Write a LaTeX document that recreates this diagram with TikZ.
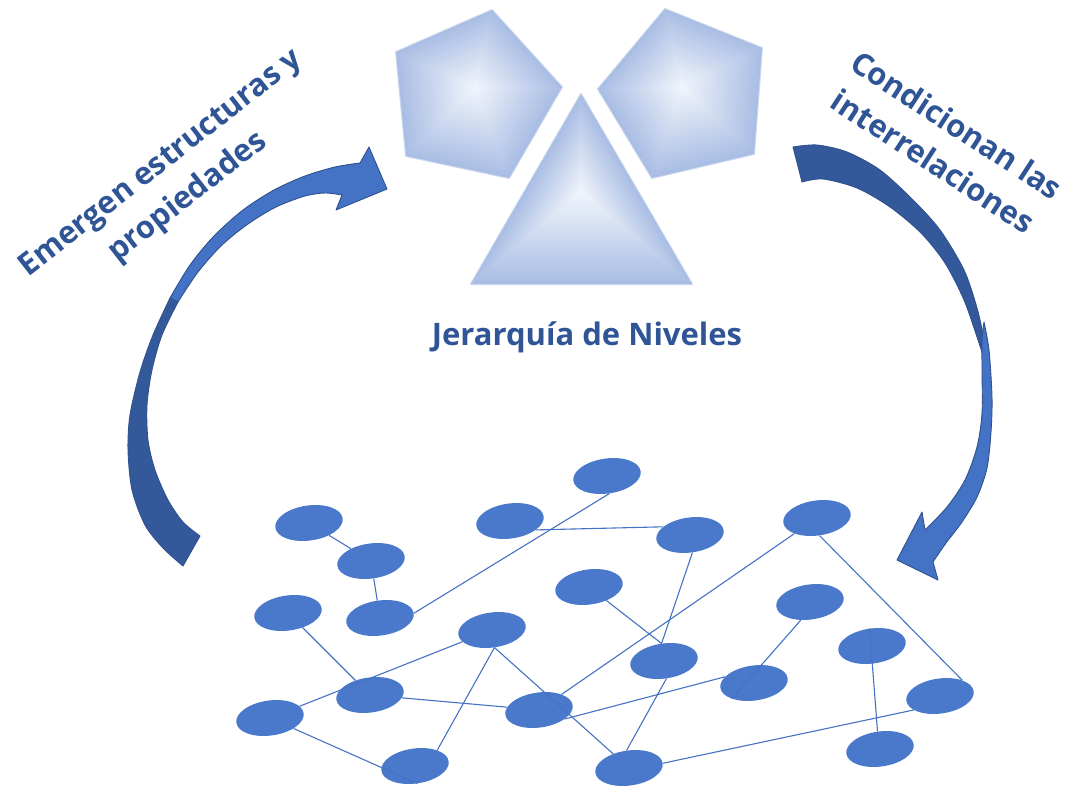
\documentclass[tikz,border=0pt]{standalone}
\usepackage{fontspec}
\setmainfont{Open Sans}
\usetikzlibrary{shapes.geometric,calc}
\definecolor{txtblue}{RGB}{47,85,151}
\definecolor{nodeblue}{RGB}{74,121,203}
\definecolor{lineblue}{RGB}{68,114,196}
\definecolor{arrowbright}{RGB}{68,114,196}
\definecolor{arrowdark}{RGB}{52,89,154}
\definecolor{arrowedge}{RGB}{47,82,143}
\definecolor{shedge}{RGB}{170,190,228}
\definecolor{shcenter}{RGB}{243,246,252}
\begin{document}
\begin{tikzpicture}[x=1pt,y=-1pt,
  net/.style={ellipse, fill=nodeblue, minimum width=68pt, minimum height=35pt, inner sep=0pt, rotate=8},
  link/.style={draw=lineblue, line width=1.1pt},
  lbl/.style={text=txtblue, font=\bfseries\fontsize{31}{43}\selectfont, align=center, inner sep=0pt},
  arrowpart/.style={draw=arrowedge, line width=0.9pt, line join=round},
  softedge/.style={draw=shedge!55!white, line width=2pt, line join=round}]
\useasboundingbox (0,0) rectangle (1089,792);

% ---------- top shapes (shape gradient) ----------
\coordinate (Lc) at (475,88);
\coordinate (L1) at (492,10);
\coordinate (L2) at (562,87);
\coordinate (L3) at (509,178);
\coordinate (L4) at (406,156);
\coordinate (L5) at (396,52);
\coordinate (Rc) at (682,87);
\coordinate (R1) at (665,9);
\coordinate (R2) at (762,48);
\coordinate (R3) at (754,154);
\coordinate (R4) at (652,178);
\coordinate (R5) at (598,89);
\coordinate (Tc) at (581,192);
\coordinate (T1) at (581,94);
\coordinate (T2) at (692,284);
\coordinate (T3) at (471,284);
\draw[softedge] (L1) -- (L2) -- (L3) -- (L4) -- (L5) -- cycle;
\draw[softedge] (R1) -- (R2) -- (R3) -- (R4) -- (R5) -- cycle;
\draw[softedge] (T1) -- (T2) -- (T3) -- cycle;
\foreach \k in {0,...,24}{
  \pgfmathsetmacro\s{1-\k/25}
  \pgfmathtruncatemacro\p{100-\k*4}
  \fill[shedge!\p!shcenter] ($(Lc)!\s!(L1)$) -- ($(Lc)!\s!(L2)$) -- ($(Lc)!\s!(L3)$) -- ($(Lc)!\s!(L4)$) -- ($(Lc)!\s!(L5)$) -- cycle;
  \fill[shedge!\p!shcenter] ($(Rc)!\s!(R1)$) -- ($(Rc)!\s!(R2)$) -- ($(Rc)!\s!(R3)$) -- ($(Rc)!\s!(R4)$) -- ($(Rc)!\s!(R5)$) -- cycle;
  \fill[shedge!\p!shcenter] ($(Tc)!\s!(T1)$) -- ($(Tc)!\s!(T2)$) -- ($(Tc)!\s!(T3)$) -- cycle;
}

% ---------- labels ----------
\node[lbl] (title) at (587,337) {Jerarquía de Niveles};
\node[lbl, rotate=38] (emerg) at (175,181) {Emergen estructuras y\\propiedades};
\node[lbl, rotate=-33] (cond) at (945,143) {Condicionan las\\interrelaciones};

% ---------- left curved arrow ----------
\draw[arrowpart, fill=arrowdark]
  plot[smooth] coordinates {(170,298) (153,335) (140,372) (130,415) (128,450) (132,490) (145,525) (163,548) (183,566)}
  -- (200,536)
  -- plot[smooth] coordinates {(200,536) (183,522) (168,500) (155,470) (148,440) (147,405) (152,370) (162,335) (178,302)}
  -- cycle;
\draw[arrowpart, fill=arrowbright]
  plot[smooth] coordinates {(170,298) (190,265) (214,236) (243,210) (274,190) (305,176) (335,167) (360,163)}
  -- (369,147) -- (387,189) -- (336,210) -- (342,195)
  -- plot[smooth] coordinates {(342,195) (325,193) (305,196) (276,207) (248,224) (222,245) (198,272) (178,302)}
  -- cycle;

% ---------- right curved arrow ----------
\draw[arrowpart, fill=arrowdark]
  plot[smooth] coordinates {(793,147) (817,145) (847,152) (880,170) (913,200) (940,230) (964,270) (977,308) (984,340) (986,362)}
  -- plot[smooth] coordinates {(982,352) (977,337) (964,300) (945,263) (921,233) (890,207) (857,188) (823,179) (802,182)}
  -- cycle;
\draw[arrowpart, fill=arrowbright]
  plot[smooth] coordinates {(984,322) (989,350) (992,397) (991,432) (987,468) (977,497) (962,522) (946,543) (933,562)}
  -- (938,580) -- (897,560) -- (922,512) -- (925,530)
  -- plot[smooth] coordinates {(925,530) (947,507) (965,480) (977,447) (982,413) (982,370) (982,340) (984,322)}
  -- cycle;

% ---------- network ----------
\node[net] (E1) at (309,523) {};
\node[net] (E2) at (371,561) {};
\node[net] (E3) at (288,613) {};
\node[net] (E4) at (380,618) {};
\node[net] (E5) at (510,521) {};
\node[net] (E6) at (607,476) {};
\node[net] (E7) at (690,535) {};
\node[net] (E8) at (589,587) {};
\node[net] (E9) at (492,630) {};
\node[net] (E10) at (370,695) {};
\node[net] (E11) at (270,718) {};
\node[net] (E12) at (539,710) {};
\node[net] (E13) at (415,766) {};
\node[net] (E14) at (629,768) {};
\node[net] (E15) at (664,661) {};
\node[net] (E16) at (817,518) {};
\node[net] (E17) at (810,602) {};
\node[net] (E18) at (754,683) {};
\node[net] (E19) at (872,646) {};
\node[net] (E20) at (940,696) {};
\node[net] (E21) at (880,749) {};

\draw[link] (E1) -- (E2);
\draw[link] (E2) -- (E4);
\draw[link] (E4.east) -- (E6.south);
\draw[link] (E5.-27) -- (E7.155);
\draw[link] (E3) -- (E10);
\draw[link] (E11) -- (E9);
\draw[link] (E10) -- (E12);
\draw[link] (E11) -- (E13.south);
\draw[link] (E9.south) -- (E13.north east);
\draw[link] (E9.south) -- (E14);
\draw[link] (E8) -- (E15.north) -- (E7.south);
\draw[link] (E12) -- (E16);
\draw[link] (E12.south east) -- (E18.160);
\draw[link] (E15.south) -- (E14.north);
\draw[link] (E14.east) -- (E20.200);
\draw[link] (E17.-125) -- (E18.south west);
\draw[link] (E16.south) -- (E20.north east);
\draw[link] (E19.north) -- (E21.north);
\end{tikzpicture}
\end{document}
